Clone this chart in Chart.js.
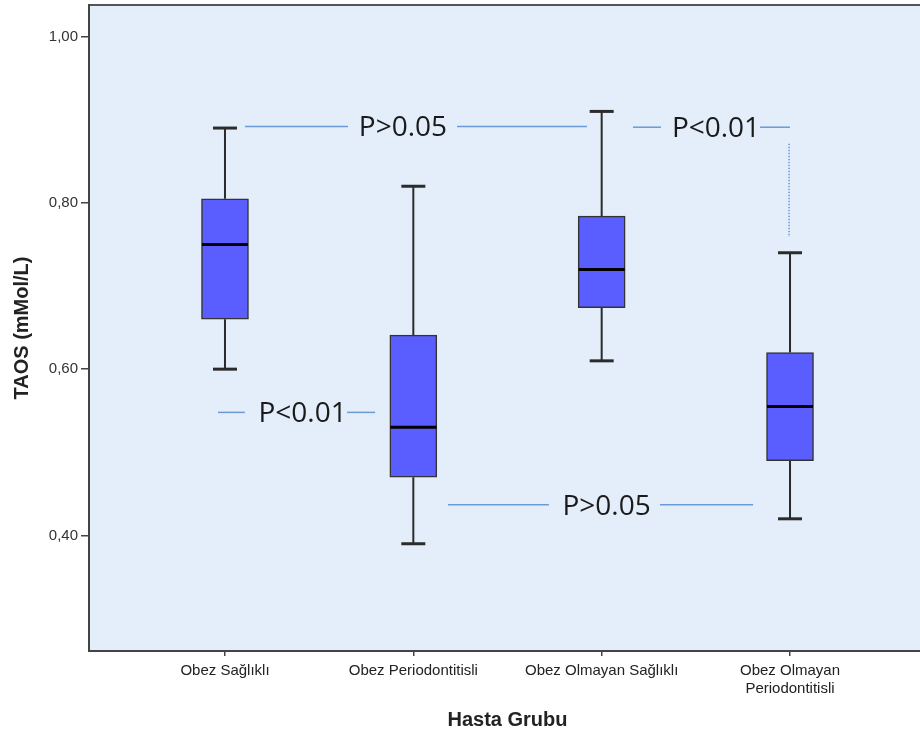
<!DOCTYPE html>
<html>
<head>
<meta charset="utf-8">
<script src="https://cdn.jsdelivr.net/npm/chart.js@4.4.1/dist/chart.umd.min.js"></script>
<style>
  html, body { margin: 0; padding: 0; background: #ffffff; overflow: hidden; }
  #wrap { width: 930px; height: 739px; }
</style>
</head>
<body>
<div id="wrap"><canvas id="taosChart" width="930" height="739"></canvas></div>
<script>
// ---- data ----
const categories = ['Obez Sağlıklı', 'Obez Periodontitisli', 'Obez Olmayan Sağlıklı', ['Obez Olmayan', 'Periodontitisli']];
const whiskerMin = [0.600, 0.390, 0.610, 0.420];
const q1 = [0.660, 0.470, 0.674, 0.490];
const median = [0.750, 0.530, 0.720, 0.555];
const q3 = [0.805, 0.641, 0.784, 0.620];
const whiskerMax = [0.890, 0.820, 0.910, 0.740];
const yTicks = [0.40, 0.60, 0.80, 1.00];
const pLabels = ['P>0.05', 'P<0.01', 'P<0.01', 'P>0.05'];

// placement of the comparison notes, in axis units
const notes = [
  { y: 0.892, textX: 0.945, segs: [[0.106, 0.653], [1.232, 1.922]] },
  { y: 0.891, textX: 2.607, segs: [[2.166, 2.315], [2.841, 3.0]], drop: [2.995, 0.871, 0.759] },
  { y: 0.548, textX: 0.412, segs: [[-0.037, 0.106], [0.648, 0.797]] },
  { y: 0.437, textX: 2.026, segs: [[1.184, 1.720], [2.310, 2.804]] }
];

const boxData = categories.map((c, i) => ({ x: i, y: [q1[i], q3[i]] }));

// background + frame of the plot area
const plotBg = {
  id: 'plotBg',
  beforeDraw(chart) {
    const { ctx, chartArea: a } = chart;
    ctx.save();
    ctx.fillStyle = '#e3eefa';
    ctx.fillRect(a.left, a.top, a.right - a.left, a.bottom - a.top);
    ctx.strokeStyle = '#555';
    ctx.lineWidth = 2;
    ctx.beginPath();
    ctx.moveTo(a.left, a.top);
    ctx.lineTo(a.right, a.top);
    ctx.stroke();
    ctx.restore();
  }
};

// whiskers, caps and medians
const boxParts = {
  id: 'boxParts',
  beforeDatasetsDraw(chart) {
    const { ctx, scales: { x, y } } = chart;
    ctx.save();
    ctx.strokeStyle = '#2b2b2b';
    categories.forEach((c, i) => {
      const px = x.getPixelForValue(i);
      ctx.lineWidth = 2;
      ctx.beginPath();
      ctx.moveTo(px, y.getPixelForValue(whiskerMax[i]));
      ctx.lineTo(px, y.getPixelForValue(q3[i]));
      ctx.moveTo(px, y.getPixelForValue(q1[i]));
      ctx.lineTo(px, y.getPixelForValue(whiskerMin[i]));
      ctx.stroke();
      ctx.lineWidth = 3;
      [whiskerMax[i], whiskerMin[i]].forEach(v => {
        const py = y.getPixelForValue(v);
        ctx.beginPath();
        ctx.moveTo(px - 12, py);
        ctx.lineTo(px + 12, py);
        ctx.stroke();
      });
    });
    ctx.restore();
  },
  afterDatasetsDraw(chart) {
    const { ctx, scales: { x, y } } = chart;
    ctx.save();
    ctx.strokeStyle = '#000';
    ctx.lineWidth = 3;
    categories.forEach((c, i) => {
      const px = x.getPixelForValue(i);
      const py = y.getPixelForValue(median[i]);
      ctx.beginPath();
      ctx.moveTo(px - 23, py);
      ctx.lineTo(px + 23, py);
      ctx.stroke();
    });
    ctx.restore();
  }
};

// p-value notes
const pNotes = {
  id: 'pNotes',
  afterDatasetsDraw(chart) {
    const { ctx, scales: { x, y } } = chart;
    ctx.save();
    ctx.strokeStyle = '#6b9bd6';
    ctx.lineWidth = 1.5;
    notes.forEach((n, k) => {
      const py = y.getPixelForValue(n.y);
      n.segs.forEach(s => {
        ctx.beginPath();
        ctx.moveTo(x.getPixelForValue(s[0]), py);
        ctx.lineTo(x.getPixelForValue(s[1]), py);
        ctx.stroke();
      });
      if (n.drop) {
        ctx.setLineDash([1.5, 1.5]);
        ctx.beginPath();
        ctx.moveTo(x.getPixelForValue(n.drop[0]), y.getPixelForValue(n.drop[1]));
        ctx.lineTo(x.getPixelForValue(n.drop[0]), y.getPixelForValue(n.drop[2]));
        ctx.stroke();
        ctx.setLineDash([]);
      }
      ctx.fillStyle = '#1a1a1a';
      ctx.font = '28px "Open Sans"';
      ctx.textAlign = 'center';
      ctx.textBaseline = 'middle';
      ctx.fillText(pLabels[k], x.getPixelForValue(n.textX), py + 2);
    });
    ctx.restore();
  }
};

new Chart(document.getElementById('taosChart').getContext('2d'), {
  type: 'bar',
  data: {
    datasets: [{
      label: 'TAOS',
      data: boxData,
      backgroundColor: '#5a5eff',
      borderColor: '#333',
      borderWidth: 1.5,
      borderSkipped: false,
      barThickness: 47
    }]
  },
  options: {
    responsive: false,
    animation: false,
    layout: { padding: { top: 5, right: 4, left: 0, bottom: 0 } },
    plugins: { legend: { display: false }, tooltip: { enabled: false } },
    scales: {
      x: {
        type: 'linear',
        offset: false,
        min: -0.722,
        max: 3.722,
        afterBuildTicks(s) { s.ticks = categories.map((c, i) => ({ value: i })); },
        afterFit(s) { s.height = 88; s.paddingLeft = 0; s.paddingRight = 0; },
        ticks: {
          autoSkip: false,
          maxRotation: 0,
          padding: 6,
          color: '#222',
          font: { family: 'Liberation Sans', size: 15 },
          callback: (v) => categories[v]
        },
        grid: { drawOnChartArea: false, tickLength: 5, color: '#444', lineWidth: 1.5, offset: false },
        border: { color: '#444', width: 2 },
        title: {
          display: true,
          text: 'Hasta Grubu',
          color: '#222',
          font: { family: 'Liberation Sans', size: 20, weight: 'bold' },
          padding: { bottom: 7 }
        }
      },
      y: {
        min: 0.261,
        max: 1.038,
        afterBuildTicks(s) { s.ticks = yTicks.map(v => ({ value: v })); },
        afterFit(s) { s.width = 89; s.paddingTop = 0; s.paddingBottom = 0; },
        ticks: {
          padding: 3,
          color: '#333',
          font: { family: 'Liberation Sans', size: 15 },
          callback: (v) => v.toFixed(2).replace('.', ',')
        },
        grid: { drawOnChartArea: false, tickLength: 8, color: '#444', lineWidth: 1.5 },
        border: { color: '#444', width: 2 },
        title: {
          display: true,
          text: 'TAOS (mMol/L)',
          color: '#222',
          font: { family: 'Liberation Sans', size: 20, weight: 'bold' },
          padding: { top: 10 }
        }
      }
    }
  },
  plugins: [plotBg, boxParts, pNotes]
});
</script>
</body>
</html>
